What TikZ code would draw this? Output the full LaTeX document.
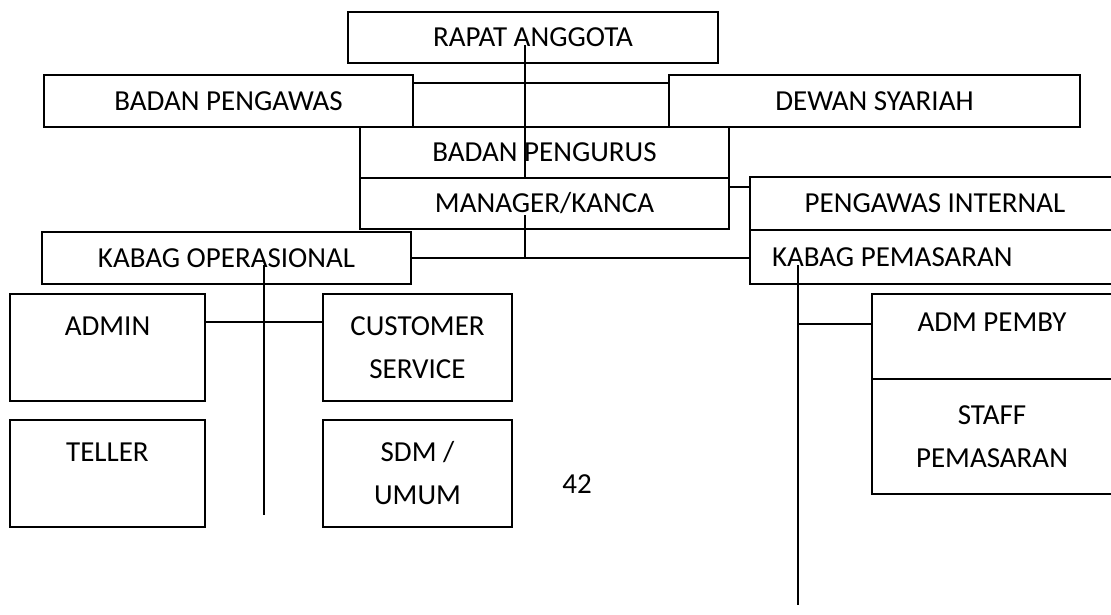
\documentclass[tikz,border=0pt]{standalone}
\usepackage{fontspec}
\setmainfont{Carlito}
\usetikzlibrary{positioning}

\begin{document}
\begin{tikzpicture}[x=1pt, y=-1pt, line width=1.3pt,
    box/.style={draw, anchor=north west, inner sep=0pt, outer sep=0pt,
      align=center, font=\fontsize{29}{43}\selectfont}]
  \useasboundingbox (0,0) rectangle (1111,615);
  % top levels
  \node (rapat) [box, minimum width=370pt, minimum height=51pt] at (348,12) {RAPAT ANGGOTA};
  \node (pengawas) [box, minimum width=369pt, minimum height=52pt] at (44,75) {BADAN PENGAWAS};
  \node (dewan) [box, minimum width=411pt, minimum height=52pt] at (669,75) {DEWAN SYARIAH};
  \node (pengurus) [box, minimum width=369pt, minimum height=51pt] at (360,127) {BADAN PENGURUS};
  \node (manager) [box, minimum width=369pt, minimum height=51pt] at (360,178) {MANAGER/KANCA};
  \node (internal) [box, minimum width=370pt, minimum height=53pt] at (750,177) {PENGAWAS INTERNAL};
  \node (pemasaran) [box, text width=326pt, inner xsep=22pt, align=flush left, minimum height=54pt] at (750,230) {KABAG PEMASARAN};
  \node (operasional) [box, minimum width=369pt, minimum height=52pt] at (42,232) {KABAG OPERASIONAL};
  % staff boxes
  \node (admin) [box, minimum width=195pt, minimum height=107pt] at (10,294) {ADMIN\\~};
  \node (cs) [box, minimum width=189pt, minimum height=107pt] at (323,294) {CUSTOMER\\SERVICE};
  \node (teller) [box, minimum width=195pt, minimum height=107pt] at (10,420) {TELLER\\~};
  \node (sdm) [box, minimum width=189pt, minimum height=107pt] at (323,420) {SDM /\\UMUM};
  \node (admpemby) [box, minimum width=240pt, minimum height=85pt] at (872,294) {ADM PEMBY\\[-14pt]~};
  \node (staff) [box, minimum width=240pt, minimum height=115pt] at (872,379) {STAFF\\PEMASARAN};
  \node (page) [font=\fontsize{29}{43}\selectfont] at (577,484) {42};
  % connectors
  \coordinate (rapatdown) at (525,45);
  \coordinate (mgrdown) at (525,215);
  \coordinate (opdown) at (264,265);
  \coordinate (opend) at (264,515);
  \coordinate (pemdown) at (798,265);
  \coordinate (pemend) at (798,605);
  \draw (rapatdown) -- (rapatdown |- pengurus.south);
  \draw ([yshift=-8pt]pengawas.north east) -- ([yshift=-8pt]dewan.north west);
  \draw (mgrdown) -- (mgrdown |- operasional.east);
  \draw (operasional.east) -- (operasional.east -| pemasaran.west);
  \draw ([yshift=-9pt]manager.north east) -- ([yshift=-9pt]manager.north east -| internal.west);
  \draw (opdown) -- (opend);
  \draw ([yshift=-28pt]admin.north east) -- ([yshift=-28pt]cs.north west);
  \draw (pemdown) -- (pemend);
  \draw ([yshift=-30pt]admpemby.north west -| pemdown) -- ([yshift=-30pt]admpemby.north west);
\end{tikzpicture}
\end{document}
